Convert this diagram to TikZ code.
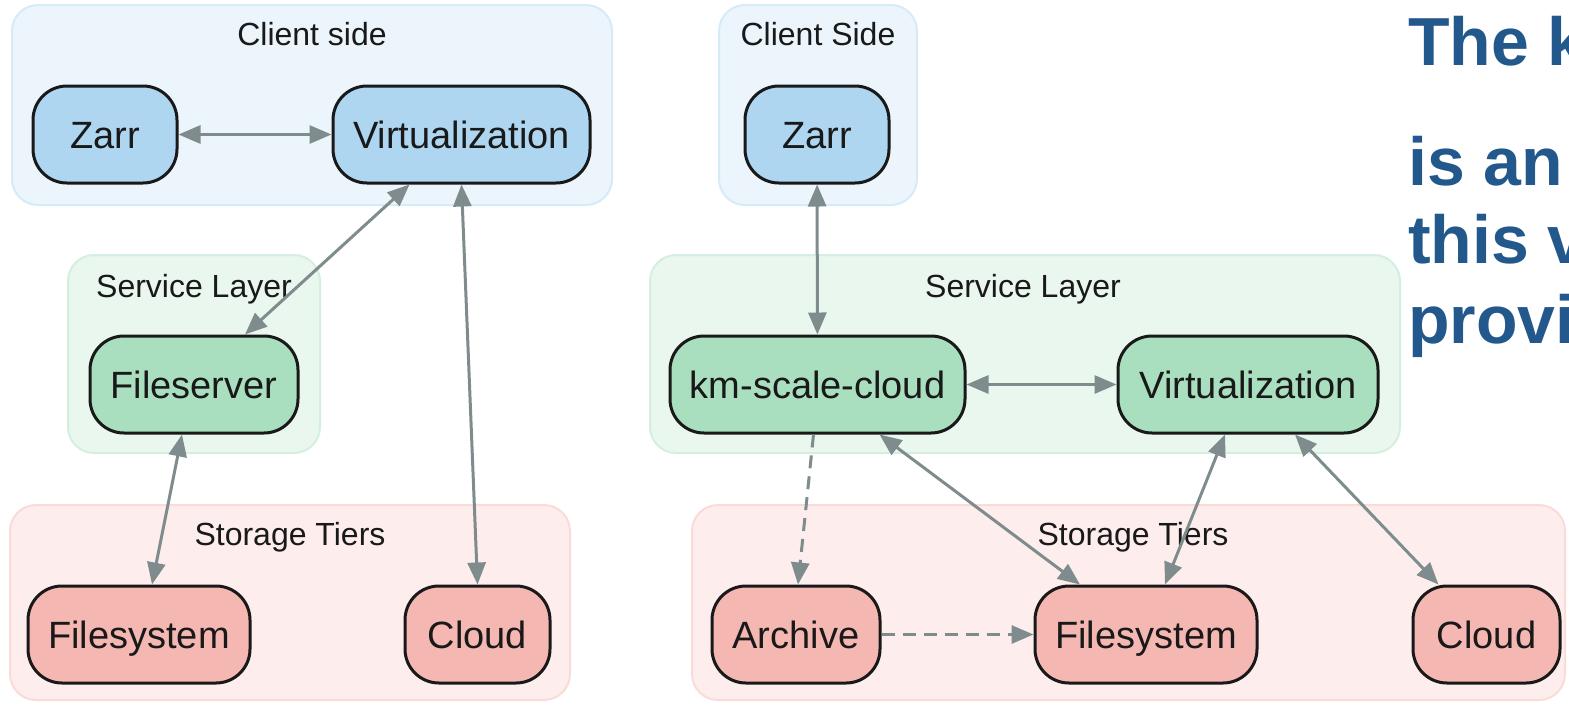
\documentclass[tikz,border=0pt]{standalone}
\usepackage{fontspec}
\setmainfont{Liberation Sans}
\usepackage{xcolor}
\usepackage{tikz}
\usetikzlibrary{arrows.meta,positioning}

\definecolor{clientbg}{HTML}{EBF5FB}
\definecolor{clientln}{HTML}{D6EAF8}
\definecolor{servicebg}{HTML}{E9F7EF}
\definecolor{serviceln}{HTML}{D4EFDF}
\definecolor{storagebg}{HTML}{FDEDEC}
\definecolor{storageln}{HTML}{FADBD8}
\definecolor{clientnd}{HTML}{AED6F1}
\definecolor{servicend}{HTML}{A9DFBF}
\definecolor{storagend}{HTML}{F5B7B1}
\definecolor{linkgray}{HTML}{7F8C8D}
\definecolor{noteblue}{HTML}{22588B}

\begin{document}
\begin{tikzpicture}[x=1pt,y=-1pt]
      \tikzstyle{cluster} = [rectangle, rounded corners = 26pt, line width = 2pt, inner sep = 0pt]
      \tikzstyle{clabel} = [anchor = base, inner sep = 0pt, text = black!90, font = \fontsize{32}{38}\selectfont]
      \tikzstyle{bnode} = [rectangle, rounded corners = 34pt, draw = black!90, line width = 3pt, minimum height = 97pt, inner sep = 0pt, text height = 27pt, text depth = 0pt, text = black!90, font = \fontsize{38}{44}\selectfont]
      \tikzstyle{link} = [draw = linkgray, line width = 3pt, >={Triangle[length=22pt,width=18pt]}, <->]
      \tikzstyle{dlink} = [link, ->, dash pattern = on 13pt off 8pt]
      \tikzstyle{note} = [anchor = base west, inner sep = 0pt, text = noteblue, font = \fontsize{68}{74}\selectfont\bfseries]

      \useasboundingbox (0,0) rectangle (1569,705);
      \clip (0,0) rectangle (1569,705);

      % clusters, left graph
      \node[cluster, fill=clientbg, draw=clientln, minimum width=600pt, minimum height=200pt] (cliL) at (312,105) {};
      \node[cluster, fill=servicebg, draw=serviceln, minimum width=252pt, minimum height=198pt] (srvL) at (194,354) {};
      \node[cluster, fill=storagebg, draw=storageln, minimum width=560pt, minimum height=195pt] (stoL) at (290,602.5) {};
      \node[clabel] (cliLtxt) at (312,45) {Client side};
      \node[clabel] (srvLtxt) at (194,297) {Service Layer};
      \node[clabel] (stoLtxt) at (290,545) {Storage Tiers};

      % clusters, right graph
      \node[cluster, fill=clientbg, draw=clientln, minimum width=198pt, minimum height=200pt] (cliR) at (818,105) {};
      \node[cluster, fill=servicebg, draw=serviceln, minimum width=750pt, minimum height=198pt] (srvR) at (1025,354) {};
      \node[cluster, fill=storagebg, draw=storageln, minimum width=873pt, minimum height=195pt] (stoR) at (1128.5,602.5) {};
      \node[clabel] (cliRtxt) at (818,45) {Client Side};
      \node[clabel] (srvRtxt) at (1023,297) {Service Layer};
      \node[clabel] (stoRtxt) at (1133,545) {Storage Tiers};

      % left graph
      \node[bnode, fill=clientnd, minimum width=144pt] (zarrL) at (105,134.5) {Zarr};
      \node[bnode, fill=clientnd, minimum width=257pt] (virtL) at (461.5,134.5) {Virtualization};
      \node[bnode, fill=servicend, minimum width=208pt] (fsrv) at (194,384.5) {Fileserver};
      \node[bnode, fill=storagend, minimum width=222pt] (fsysL) at (139,634.5) {Filesystem};
      \node[bnode, fill=storagend, minimum width=145pt] (cloudL) at (477.5,634.5) {Cloud};

      % right graph
      \node[bnode, fill=clientnd, minimum width=144pt] (zarrR) at (817,134.5) {Zarr};
      \node[bnode, fill=servicend, minimum width=295pt] (kmsc) at (817.5,384.5) {km-scale-cloud};
      \node[bnode, fill=servicend, minimum width=260pt] (virtR) at (1248,384.5) {Virtualization};
      \node[bnode, fill=storagend, minimum width=168pt] (arch) at (796,634.5) {Archive};
      \node[bnode, fill=storagend, minimum width=222pt] (fsysR) at (1146,634.5) {Filesystem};
      \node[bnode, fill=storagend, minimum width=147pt] (cloudR) at (1486.5,634.5) {Cloud};

      % connections
      \draw[link] (zarrL) to (virtL);
      \draw[link] ([xshift=-52pt]virtL.south) to ([xshift=51pt]fsrv.north);
      \draw[link] (virtL.south) to (cloudL.north);
      \draw[link] ([xshift=-12pt]fsrv.south) to ([xshift=13pt]fsysL.north);

      \draw[link] (zarrR) to (kmsc);
      \draw[link] (kmsc) to (virtR);
      \draw[dlink] ([xshift=-4pt]kmsc.south) to ([xshift=2pt]arch.north);
      \draw[dlink] (arch) to (fsysR);
      \draw[link] ([xshift=62pt]kmsc.south) to ([xshift=-66pt]fsysR.north);
      \draw[link] ([xshift=-23pt]virtR.south) to ([xshift=19pt]fsysR.north);
      \draw[link] ([xshift=47pt]virtR.south) to ([xshift=-48pt]cloudR.north);

      % side note
      \node[note] (note1) at (1408,65) {The k};
      \node[note] (note2) at (1408,185) {is an e};
      \node[note] (note3) at (1408,263) {this v};
      \node[note] (note4) at (1408,343) {provid};
\end{tikzpicture}
\end{document}
